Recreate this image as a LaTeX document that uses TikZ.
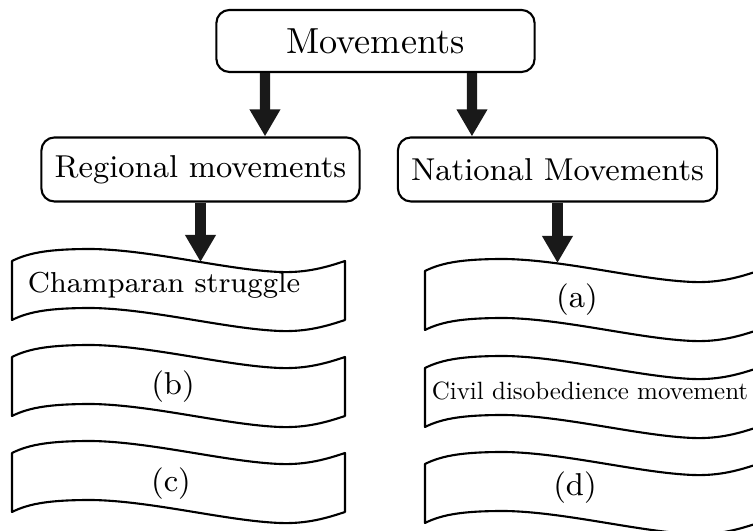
\documentclass[tikz,border=0pt]{standalone}
\usetikzlibrary{arrows.meta}
\begin{document}
\begin{tikzpicture}[x=0.01cm,y=-0.01cm]
	\tikzstyle{heading}=[rectangle,rounded corners=1.3mm,draw=black,semithick,minimum width=3.18cm,minimum height=0.64cm,inner sep=0pt,font=\fontsize{9}{11}\selectfont]
	\tikzstyle{entry}=[inner sep=0pt,anchor=base,font=\fontsize{9}{11}\selectfont]
	\tikzstyle{edge}=[draw,line width=2.9pt,black!90,-{Triangle[width=2.9mm,length=2.7mm]}]
	\tikzset{wave/.pic={\draw[semithick,line join=round] (0,0) .. controls (18,-9) and (40,-12) .. (80,-12) .. controls (140,-11) and (215,9) .. (268,11) .. controls (295,12) and (315,6) .. (333,0) -- (333,59) .. controls (315,65) and (295,71) .. (268,70) .. controls (215,68) and (140,48) .. (80,47) .. controls (40,47) and (18,50) .. (0,59) -- cycle;}}
	\useasboundingbox (0,0) rectangle (753,531);
	\clip (0,0) rectangle (753,531);
	\begin{scope}
		\node [heading,minimum height=0.62cm,font=\fontsize{10.3}{12}\selectfont] (mov) at (375.5,41) {Movements};
		\node [heading] (reg) at (200.5,169.5) {Regional movements};
		\node [heading,minimum width=3.19cm] (nat) at (557.5,169.5) {National Movements};
		\pic at (12,261) {wave};
		\pic at (12,357) {wave};
		\pic at (12,453) {wave};
		\pic at (425,271) {wave};
		\pic at (425,368) {wave};
		\pic at (425,464) {wave};
		\node [entry,font=\fontsize{8.2}{10}\selectfont] (champ) at (164,293) {Champaran struggle};
		\node [entry] (b) at (173,395) {(b)};
		\node [entry] (c) at (171,492) {(c)};
		\node [entry] (a) at (577,308) {(a)};
		\node [entry,font=\fontsize{10}{12}\selectfont] (civil) at (590,400) {\scalebox{0.71}{Civil disobedience movement}};
		\node [entry] (d) at (575,496) {(d)};
		\coordinate (champtop) at (200.5,262);
		\coordinate (atop) at (557.5,263);
		\path[edge] ([xshift=-1.105cm]mov.south) -- ([xshift=0.645cm]reg.north);
		\path[edge] ([xshift=0.965cm]mov.south) -- ([xshift=-0.855cm]nat.north);
		\path[edge] (reg.south) -- (champtop);
		\path[edge] (nat.south) -- (atop);
	\end{scope}
\end{tikzpicture}
\end{document}
